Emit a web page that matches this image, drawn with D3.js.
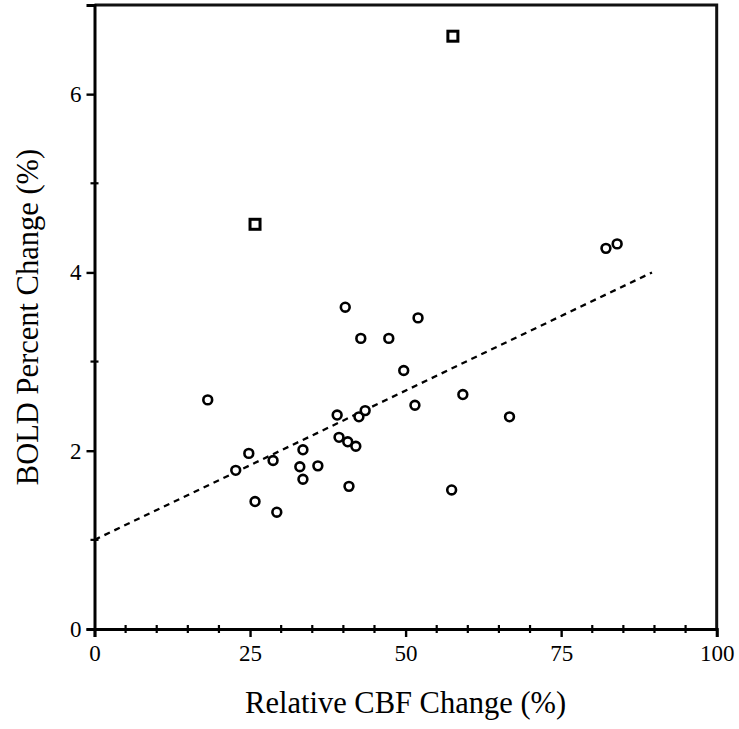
<!DOCTYPE html>
<html>
<head>
<meta charset="utf-8">
<script src="https://cdn.jsdelivr.net/npm/d3@7"></script>
<style>
  html, body { margin: 0; padding: 0; background: #fff; }
  svg { display: block; }
  text { font-family: "Liberation Serif", "Times New Roman", serif; fill: #000; }
</style>
</head>
<body>
<svg id="chart" width="739" height="729"></svg>
<script>
// ---- data ----
const circleX = [18.2, 22.7, 24.8, 25.8, 28.7, 29.3, 33.0, 33.5, 33.5, 35.9, 39.0, 39.3, 40.3, 40.7, 40.9, 42.0, 42.5, 42.8, 43.5, 47.3, 49.7, 51.5, 52.0, 57.4, 59.2, 66.7, 82.2, 84.0];
const circleY = [2.57, 1.78, 1.97, 1.43, 1.89, 1.31, 1.82, 2.01, 1.68, 1.83, 2.40, 2.15, 3.61, 2.10, 1.60, 2.05, 2.38, 3.26, 2.45, 3.26, 2.90, 2.51, 3.49, 1.56, 2.63, 2.38, 4.27, 4.32];
const squareX = [25.8, 57.6];
const squareY = [4.54, 6.65];
const fitX = [0, 89.6];
const fitY = [1.0, 4.0];
const xMajorTicks = [0, 25, 50, 75, 100];
const yMajorTicks = [0, 2, 4, 6];
const xTitle = "Relative CBF Change (%)";
const yTitle = "BOLD Percent Change (%)";

// ---- layout ----
const svg = d3.select("#chart");
const mLeft = 94.5, mRight = 716.7, mTop = 5, mBottom = 629;
const x = d3.scaleLinear().domain([0, 100]).range([mLeft, mRight]);
const y = d3.scaleLinear().domain([0, 7]).range([mBottom, mTop]);

const axisW = 3;

// frame (top & right)
svg.append("path")
  .attr("d", `M${x(0)},${y(7)}H${x(100)}V${y(0)}`)
  .attr("fill", "none").attr("stroke", "#111").attr("stroke-width", axisW);

// x axis
const xAxis = svg.append("g").attr("transform", `translate(0,${mBottom})`);
xAxis.call(d3.axisBottom(x).tickValues(xMajorTicks).tickSize(8).tickPadding(8).tickFormat(d3.format("d")));
xAxis.select(".domain").attr("stroke", "#000").attr("stroke-width", axisW);
xAxis.selectAll(".tick line").attr("stroke", "#000").attr("stroke-width", 2.4);
xAxis.selectAll(".tick text").attr("font-size", 23).attr("font-family", "Liberation Serif");
const xMinor = d3.range(0, 101, 5).filter(v => !xMajorTicks.includes(v));
xAxis.selectAll(".minor").data(xMinor).enter().append("line")
  .attr("x1", d => x(d)).attr("x2", d => x(d)).attr("y1", -4).attr("y2", 4)
  .attr("stroke", "#000").attr("stroke-width", 2.2);

// y axis
const yAxis = svg.append("g").attr("transform", `translate(${mLeft},0)`);
yAxis.call(d3.axisLeft(y).tickValues(yMajorTicks).tickSize(8).tickPadding(5).tickFormat(d3.format("d")));
yAxis.select(".domain").attr("stroke", "#000").attr("stroke-width", axisW);
yAxis.selectAll(".tick line").attr("stroke", "#000").attr("stroke-width", 2.4);
yAxis.selectAll(".tick text").attr("font-size", 23).attr("font-family", "Liberation Serif");
const yMinor = [1, 3, 5];
yAxis.selectAll(".minor").data(yMinor).enter().append("line")
  .attr("y1", d => y(d)).attr("y2", d => y(d)).attr("x1", -4).attr("x2", 4)
  .attr("stroke", "#000").attr("stroke-width", 2.2);

// titles
svg.append("text").attr("x", (mLeft + mRight) / 2).attr("y", 713)
  .attr("text-anchor", "middle").attr("font-size", 30.5).text(xTitle);
svg.append("text").attr("transform", `translate(38,${(mTop + mBottom) / 2}) rotate(-90)`)
  .attr("text-anchor", "middle").attr("font-size", 30.5).text(yTitle);

// fit line
svg.append("line")
  .attr("x1", x(fitX[0])).attr("y1", y(fitY[0]))
  .attr("x2", x(fitX[1])).attr("y2", y(fitY[1]))
  .attr("stroke", "#000").attr("stroke-width", 2.3).attr("stroke-dasharray", "6,5");

// circles
const pts = circleX.map((v, i) => ({ x: v, y: circleY[i] }));
svg.append("g").selectAll("circle").data(pts).enter().append("circle")
  .attr("cx", d => x(d.x)).attr("cy", d => y(d.y)).attr("r", 4.4)
  .attr("fill", "#fff").attr("stroke", "#000").attr("stroke-width", 2.6);

// squares
const sq = squareX.map((v, i) => ({ x: v, y: squareY[i] }));
svg.append("g").selectAll("rect").data(sq).enter().append("rect")
  .attr("x", d => x(d.x) - 5).attr("y", d => y(d.y) - 5).attr("width", 10).attr("height", 10)
  .attr("fill", "#fff").attr("stroke", "#000").attr("stroke-width", 3);
</script>
</body>
</html>
